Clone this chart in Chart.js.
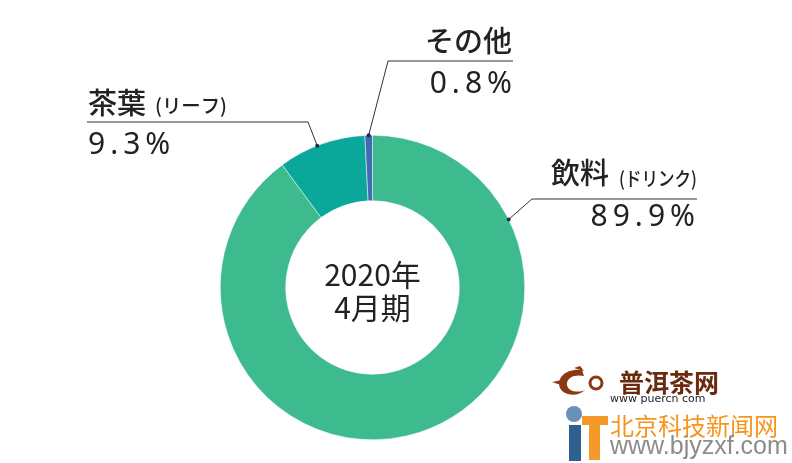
<!DOCTYPE html>
<html>
<head>
<meta charset="utf-8">
<script src="https://cdn.jsdelivr.net/npm/chart.js@4.4.1/dist/chart.umd.min.js"></script>
<style>
  html, body { margin: 0; padding: 0; background: #fff; }
  #wrap { position: relative; width: 792px; height: 463px; overflow: hidden; }
  .wm { position: absolute; white-space: nowrap; line-height: 1; }
</style>
</head>
<body>
<div id="wrap">
  <canvas id="chart" width="792" height="463"></canvas>
  <!-- watermarks -->
  <svg class="wm" style="left:552px;top:366px" width="60" height="34" viewBox="0 0 60 34">
    <path d="M30 4 C14 2 4 12 8 22 C12 30 26 31 33 24 C27 27 16 26 15 19 C14 11 24 8 32 10 Z" fill="#8a3a12"/>
    <path d="M0 16 L10 14 L9 19 Z" fill="#8a3a12"/>
    <circle cx="44" cy="17" r="6" fill="none" stroke="#8a3a12" stroke-width="3"/>
    <path d="M22 2 L28 0 L32 5 Z" fill="#8a3a12"/>
  </svg>
  <div class="wm" style="left:619px;top:363px;font:bold 25px 'Noto Sans CJK SC';color:#6a2a0e;">普洱茶网</div>
  <div class="wm" style="left:610px;top:392px;font:11px 'DejaVu Sans';color:#222;">www puercn com</div>
  <div class="wm" style="left:566px;top:406px;width:16px;height:16px;border-radius:50%;background:#6b8fb8;"></div>
  <div class="wm" style="left:569px;top:425px;width:12px;height:36px;background:#2f5f8f;"></div>
  <div class="wm" style="left:582px;top:416px;width:26px;height:9px;background:#f39a2a;"></div>
  <div class="wm" style="left:589px;top:416px;width:11px;height:44px;background:#f39a2a;"></div>
  <div class="wm" style="left:610px;top:407px;font:24px 'Noto Sans CJK SC';color:#f7941d;">北京科技新闻网</div>
  <div class="wm" style="left:610px;top:431px;font:25px 'Liberation Sans';color:#8c8c8c;">www.bjyzxf.com</div>
</div>
<script>
const categories = ["飲料", "茶葉", "その他"];
const subNames = ["(ドリンク)", "(リーフ)", ""];
const shares = [89.9, 9.3, 0.8];
const centerLines = ["2020年", "4月期"];

const sliceColors = ["#3dbb8f", "#0aa89b", "#4469b0"];

// label layout: anchor = fraction along the slice's arc, elbow/end = leader line, text positions
const labelLayout = [
  { anchor: 0.196, elbow: [532, 199], end: [697, 199], align: "left",
    name: [551, 173], sub: [619, 179], subW: 78, value: [695, 217], valueAlign: "right" },
  { anchor: 0.45, elbow: [308, 122], end: [87, 122], align: "left",
    name: [88, 102.5], sub: [155, 105.5], subW: 72, value: [88, 145], valueAlign: "left" },
  { anchor: 0.5, elbow: [388, 61], end: [513, 61], align: "right",
    name: [512, 40.5], sub: null, value: [512, 84], valueAlign: "right" }
];

const labelsPlugin = {
  id: "leaderLabels",
  afterDatasetsDraw(chart) {
    const ctx = chart.ctx;
    const arcs = chart.getDatasetMeta(0).data;
    ctx.save();
    arcs.forEach((arc, i) => {
      const lay = labelLayout[i];
      const p = arc.getProps(["x", "y", "startAngle", "endAngle", "outerRadius"], true);
      const a = p.startAngle + (p.endAngle - p.startAngle) * lay.anchor;
      const ax = p.x + Math.cos(a) * p.outerRadius;
      const ay = p.y + Math.sin(a) * p.outerRadius;
      ctx.strokeStyle = "#333";
      ctx.lineWidth = 1;
      ctx.beginPath();
      ctx.moveTo(ax, ay);
      ctx.lineTo(lay.elbow[0], lay.elbow[1]);
      ctx.lineTo(lay.end[0], lay.end[1]);
      ctx.stroke();
      ctx.fillStyle = "#1f2a44";
      ctx.beginPath();
      ctx.arc(ax, ay, 2, 0, Math.PI * 2);
      ctx.fill();

      ctx.fillStyle = "#222";
      ctx.textBaseline = "middle";
      ctx.font = "500 29px 'Noto Sans CJK JP'";
      ctx.textAlign = lay.align;
      ctx.letterSpacing = "0px";
      ctx.fillText(categories[i], lay.name[0], lay.name[1]);
      if (lay.sub && subNames[i]) {
        ctx.font = "500 19.5px 'Noto Sans CJK JP'";
        ctx.textAlign = "left";
        ctx.fillText(subNames[i], lay.sub[0], lay.sub[1], lay.subW);
      }
      ctx.font = "400 30px 'Noto Sans'";
      ctx.letterSpacing = "5px";
      ctx.textAlign = lay.valueAlign;
      const txt = shares[i].toFixed(1) + "%";
      // compensate trailing letter spacing when right-aligned
      const vx = lay.valueAlign === "right" ? lay.value[0] + 5 : lay.value[0];
      ctx.fillText(txt, vx, lay.value[1]);
    });

    // centre text
    const c = arcs[0];
    ctx.letterSpacing = "0px";
    ctx.font = "400 30px 'Noto Sans CJK JP'";
    ctx.textAlign = "center";
    ctx.fillStyle = "#222";
    ctx.fillText(centerLines[0], c.x, c.y - 13);
    ctx.fillText(centerLines[1], c.x, c.y + 20);
    ctx.restore();
  }
};

new Chart(document.getElementById("chart"), {
  type: "doughnut",
  data: {
    labels: categories,
    datasets: [{
      data: shares,
      backgroundColor: sliceColors,
      borderColor: "#ffffff",
      borderWidth: 0.5
    }]
  },
  options: {
    responsive: false,
    animation: false,
    cutout: "57%",
    layout: { padding: { left: 220, right: 267, top: 135, bottom: 23 } },
    plugins: {
      legend: { display: false },
      tooltip: { enabled: false }
    }
  },
  plugins: [labelsPlugin]
});
</script>
</body>
</html>
